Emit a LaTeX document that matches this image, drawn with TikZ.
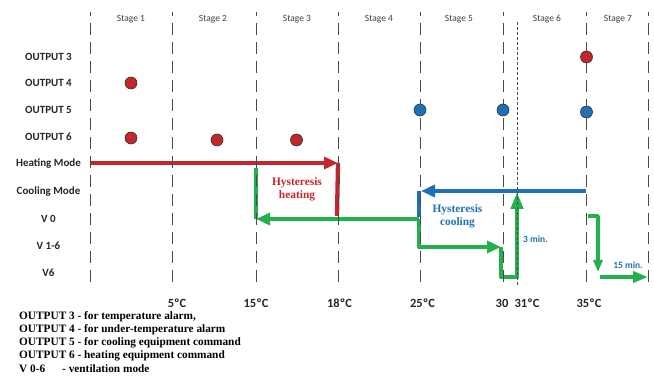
\documentclass[tikz,border=0pt]{standalone}
\usepackage{fontspec}
\setmainfont{Carlito}
\newfontfamily\legendfont{Liberation Serif}
\usetikzlibrary{arrows.meta}

\definecolor{heatred}{HTML}{C1272D}
\definecolor{coolblue}{HTML}{1F70B8}
\definecolor{ventgreen}{HTML}{22B14C}
\definecolor{gridgray}{HTML}{4A4A4A}

\begin{document}
\begin{tikzpicture}[x = 1pt, y = -1pt]
			\useasboundingbox (0, 0) rectangle (654, 379);

			% Styles for the chart
			\tikzset{stage line/.style = {gridgray, line width = 0.9pt, dash pattern = on 12pt off 7pt, dash phase = 8pt}}
			\tikzset{fine line/.style = {gridgray, line width = 0.8pt, dash pattern = on 3pt off 2pt}}
			\tikzset{mode line/.style = {line width = 4.3pt, line join = round}}
			\tikzset{big tip/.style = {-{Triangle[length = 14pt, width = 12pt]}}}
			\tikzset{small tip/.style = {-{Triangle[length = 12pt, width = 9pt]}}}
			\tikzset{row label/.style = {font = \fontsize{11}{13}\selectfont\bfseries, text = black!85}}
			\tikzset{stage label/.style = {font = \fontsize{9.5}{11}\selectfont, text = black!75}}
			\tikzset{temp label/.style = {font = \fontsize{12.5}{14}\selectfont\bfseries, text = black!85}}
			\tikzset{legend text/.style = {font = \legendfont\fontsize{11.3}{13}\selectfont\bfseries, anchor = west, inner sep = 0pt}}
			\tikzset{hyst text/.style = {font = \legendfont\fontsize{11.4}{13.5}\selectfont\bfseries, align = center}}
			\tikzset{time text/.style = {font = \fontsize{9.5}{11}\selectfont\bfseries, text = coolblue}}
			\tikzset{red dot/.style = {fill = heatred, draw = black!80, line width = 0.6pt}}
			\tikzset{blue dot/.style = {fill = coolblue, draw = black!80, line width = 0.6pt}}

			% Define the corner points of the mode lines
			\coordinate (H0) at (90, 163);
			\coordinate (H1) at (338, 163);
			\coordinate (H2) at (337, 216);
			\coordinate (C0) at (586, 191);
			\coordinate (C1) at (421, 191);
			\coordinate (C2) at (419, 191);
			\coordinate (C3) at (419, 217);
			\coordinate (G0) at (256, 168);
			\coordinate (G1) at (256, 219);
			\coordinate (G2) at (419, 219);
			\coordinate (G3) at (419, 247);
			\coordinate (G4) at (501, 247);
			\coordinate (G5) at (501, 277);
			\coordinate (G6) at (517, 277);
			\coordinate (G7) at (517, 192);
			\coordinate (R0) at (588, 216);
			\coordinate (R1) at (598, 272);
			\coordinate (R2) at (600, 277);
			\coordinate (R3) at (648, 277);

			% Draw the heating mode line
			\draw[mode line, heatred, big tip] (H0) -- (H1);
			\draw[mode line, heatred] (H1) -- (H2);

			% Draw the cooling mode line
			\draw[mode line, coolblue, big tip] (C0) -- (C1);
			\draw[mode line, coolblue] (C2) -- (C3);

			% Draw the ventilation lines
			\draw[mode line, ventgreen] (G0) -- (G1);
			\draw[mode line, ventgreen, big tip] (G2) -- (G1);
			\draw[mode line, ventgreen, big tip] (G2) -- (G3) -- (G4);
			\draw[mode line, ventgreen, -{Triangle[length = 17pt, width = 12pt]}] (G4) -- (G5) -- (G6) -- (G7);
			\draw[line width = 3.6pt, line join = round, ventgreen, small tip] (R0) -| (R1);
			\draw[line width = 3.6pt, ventgreen, -{Triangle[length = 15pt, width = 11pt]}] (R2) -- (R3);

			% Draw the stage borders
			\draw[stage line] (90, 12) -- (90, 285);
			\draw[stage line] (172, 12) -- (172, 285);
			\draw[stage line] (256, 12) -- (256, 285);
			\draw[stage line] (338, 12) -- (338, 285);
			\draw[stage line] (420, 12) -- (420, 285);
			\draw[stage line] (503, 12) -- (503, 285);
			\draw[stage line] (586.5, 12) -- (586.5, 285);
			\draw[stage line] (648.5, 12) -- (648.5, 285);
			\draw[fine line] (517, 22) -- (517, 285);

			% Draw the output dots
			\filldraw[red dot] (586.5, 57) circle (6pt);
			\filldraw[red dot] (131, 83) circle (6pt);
			\filldraw[blue dot] (420, 110) circle (6pt);
			\filldraw[blue dot] (503, 110) circle (6pt);
			\filldraw[blue dot] (586.5, 112) circle (6pt);
			\filldraw[red dot] (131, 138) circle (6pt);
			\filldraw[red dot] (217, 140) circle (6pt);
			\filldraw[red dot] (296.5, 140) circle (6pt);

			% Stage names
			\node[stage label] (s1) at (131, 19) {Stage 1};
			\node[stage label] (s2) at (213, 19) {Stage 2};
			\node[stage label] (s3) at (297, 19) {Stage 3};
			\node[stage label] (s4) at (379, 19) {Stage 4};
			\node[stage label] (s5) at (459, 19) {Stage 5};
			\node[stage label] (s6) at (547, 19) {Stage 6};
			\node[stage label] (s7) at (618, 19) {Stage 7};

			% Row names
			\node[row label] (out3) at (48.5, 57) {OUTPUT 3};
			\node[row label] (out4) at (48.5, 83) {OUTPUT 4};
			\node[row label] (out5) at (48.5, 110) {OUTPUT 5};
			\node[row label] (out6) at (48.5, 137) {OUTPUT 6};
			\node[row label] (heat) at (48.5, 164) {Heating Mode};
			\node[row label] (cool) at (48.5, 192) {Cooling Mode};
			\node[row label] (v0) at (48.5, 219) {V 0};
			\node[row label] (v16) at (48.5, 246) {V 1-6};
			\node[row label] (v6) at (48.5, 273) {V6};

			% Hysteresis and delay labels
			\node[hyst text, text = heatred] (hheat) at (297, 189.5) {Hysteresis\\heating};
			\node[hyst text, text = coolblue] (hcool) at (457.5, 216.5) {Hysteresis\\cooling};
			\node[time text] (t3) at (535.5, 239) {3 min.};
			\node[time text] (t15) at (628, 265) {15 min.};

			% Temperature scale
			\node[temp label] (k5) at (177, 303) {5ºC};
			\node[temp label] (k15) at (256, 303) {15ºC};
			\node[temp label] (k18) at (339.5, 303) {18ºC};
			\node[temp label] (k25) at (422.5, 303) {25ºC};
			\node[temp label] (k30) at (502, 303) {30};
			\node[temp label] (k31) at (527, 303) {31ºC};
			\node[temp label] (k35) at (589, 303) {35ºC};

			% Legend
			\node[legend text] (lg3) at (19, 316.5) {OUTPUT 3 - for temperature alarm,};
			\node[legend text] (lg4) at (19, 329.5) {OUTPUT 4 - for under-temperature alarm};
			\node[legend text] (lg5) at (19, 342.5) {OUTPUT 5 - for cooling equipment command};
			\node[legend text] (lg6) at (19, 355.5) {OUTPUT 6 - heating equipment command};
			\node[legend text] (lgv) at (19, 368.5) {V 0-6};
			\node[legend text] (lgvm) at (62, 368.5) {- ventilation mode};

		\end{tikzpicture}
\end{document}
